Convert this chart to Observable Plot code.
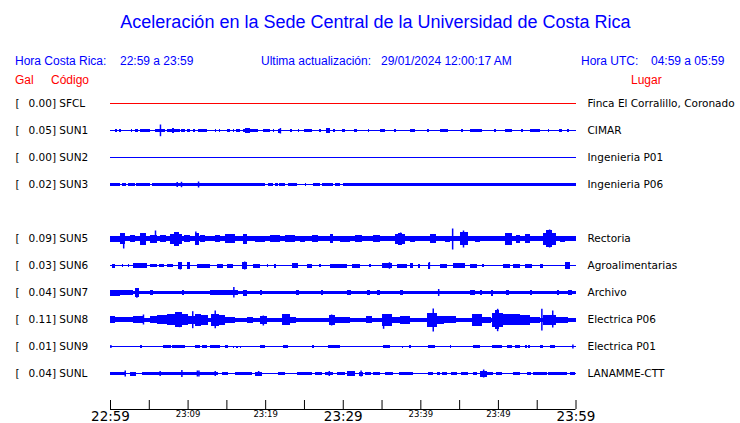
<!DOCTYPE html>
<html><head><meta charset="utf-8">
<script src="https://cdn.jsdelivr.net/npm/d3@7"></script>
<script src="https://cdn.jsdelivr.net/npm/@observablehq/plot@0.6"></script>
<style>
body{margin:0;background:#fff;width:740px;height:423px;overflow:hidden}
#hdr{position:relative;width:740px;height:90px;font-family:"Liberation Sans",Arial,sans-serif;color:#0000ff}
#hdr span{position:absolute;white-space:nowrap;line-height:normal}
.t{font-size:18px}
.s{font-size:12px}
.r{color:#ff0000}
svg{display:block;overflow:visible}
</style></head><body>
<div id="hdr"></div><div id="chart"></div><div id="axis"></div>
<script>
// ---------- texts ----------
const titleText = "Aceleración en la Sede Central de la Universidad de Costa Rica";
const localLabel = "Hora Costa Rica:", localRange = "22:59 a 23:59";
const updLabel = "Ultima actualización:", updValue = "29/01/2024 12:00:17 AM";
const utcLabel = "Hora UTC:", utcRange = "04:59 a 05:59";
const colGal = "Gal", colCode = "Código", colPlace = "Lugar";

// ---------- stations ----------
const rowSlots = ["SFCL","SUN1","SUN2","SUN3","","SUN5","SUN6","SUN7","SUN8","SUN9","SUNL"];
const codes  = ["SFCL","SUN1","SUN2","SUN3","SUN5","SUN6","SUN7","SUN8","SUN9","SUNL"];
const gal    = [0.00, 0.05, 0.00, 0.02, 0.09, 0.03, 0.04, 0.11, 0.01, 0.04];
const places = ["Finca El Corralillo, Coronado","CIMAR","Ingenieria P01","Ingenieria P06","Rectoria","Agroalimentarias","Archivo","Electrica P06","Electrica P01","LANAMME-CTT"];
// quiet-trace half amplitude (display units)
const baseAmp = [0.5, 0.5, 0.5, 0.5, 2.5, 0.5, 1.5, 2, 0.5, 0.5];

// ---------- time axis (minutes after 22:59) ----------
const timeDomain = [0, 60];
const tickMarks = [0,5,10,15,20,25,30,35,40,45,50,55,60];
const tickMinutes = [0,10,20,30,40,50,60];
const tickLabels = ["22:59","23:09","23:19","23:29","23:39","23:49","23:59"];

// ---------- bursts [start min, end min, half amplitude] ----------
const burstsSUN1 = [[0.6,0.9,1.7],[1.2,1.4,1.5],[2.7,2.9,1.5],[3.2,3.6,1.7],[3.9,5.2,1.7],[5.8,7.1,1.7],[7.3,9.0,1.7],[8.0,8.3,2.5],[9.2,9.7,1.5],[9.9,10.3,1.5],[10.7,11.0,1.2],[11.3,12.5,1.7],[13.5,13.7,1.2],[14.0,14.2,1.5],[15.1,15.5,1.2],[15.8,16.0,1.5],[16.3,16.8,1.5],[17.1,19.1,1.7],[17.4,18.0,2.5],[19.7,20.6,1.7],[21.0,21.2,1.2],[21.6,22.1,2],[23.2,23.4,1.2],[24.2,24.4,1.2],[25.0,26.0,1.5],[27.0,27.2,1.5],[27.9,28.4,2.5],[28.7,29.0,1.5],[29.9,30.3,1.2],[31.5,31.8,1.5],[33.2,33.4,1.2],[34.8,35.4,1.5],[36.6,36.8,1.2],[38.7,39.3,1.7],[40.9,41.1,1.2],[42.5,43.6,1.7],[45.3,45.5,1.2],[46.4,48.0,1.7],[49.5,49.7,1.2],[50.9,51.8,1.7],[53.0,53.2,1.2],[54.1,55.4,1.7],[56.4,56.6,1.2],[57.9,58.2,1.5],[58.9,59.1,1.2]];
const burstsSUN3 = [[0.0,0.6,1.5],[0.7,1.3,1.5],[1.5,2.1,1.5],[2.3,3.2,1.5],[3.4,5.2,1.5],[5.4,20.0,1.5],[20.4,21.0,1.5],[21.3,21.6,1.5],[21.8,22.6,1.5],[22.9,24.1,1.5],[25.1,25.3,1.5],[26.2,27.1,1.5],[27.3,28.7,1.5],[29.0,29.6,1.5],[30.0,60,1.5]];
const burstsSUN5 = [[0,1.3,3],[1.3,1.9,5.3],[2.6,3.2,3.5],[3.9,4.6,6],[5.2,6.1,4],[6.4,7.2,3.5],[7.7,9.3,5],[8.2,8.9,7],[9.5,10.3,3.5],[11.0,11.5,6],[11.6,12.2,3.5],[13.5,14.2,3.5],[14.8,16.1,4.5],[17.1,17.7,5],[18.7,20.0,3],[20.6,21.9,3.5],[22.6,23.8,3.5],[24.5,25.1,3],[26.0,26.8,3.5],[28.4,28.7,4.5],[29.7,30.9,3],[31.6,32.5,3.5],[33.9,34.8,3.5],[36.7,38.0,5],[37.1,37.6,6],[38.7,39.3,3],[41.2,42.0,4.5],[43.2,43.8,3],[45.1,46.1,6.5],[47.0,47.7,3],[50.9,51.8,6],[52.3,52.8,4],[53.5,54.1,4.5],[55.8,57.5,6],[56.2,57.0,8.5],[58.0,58.6,3]];
const burstsSUN6 = [[0.3,0.6,2],[1.5,1.7,1.7],[2.3,2.5,1.5],[3.0,4.8,2.2],[5.2,6.0,1.8],[6.3,7.0,1.8],[7.3,8.1,1.8],[8.8,9.3,3.7],[9.9,10.3,3.5],[11.2,12.9,2],[13.8,14.6,2],[15.1,15.9,2],[17.0,17.7,3.5],[18.4,19.3,2],[20.2,20.4,1.5],[21.2,21.4,2],[23.5,24.2,2.5],[25.4,26.0,2],[27.0,27.2,1.5],[28.4,30.5,2],[31.2,32.2,2],[33.4,33.6,1.5],[35.1,36.3,2.5],[37.0,38.3,2],[38.7,39.1,2.5],[39.7,40.0,2],[41.0,41.2,3],[42.5,43.4,2],[44.2,45.8,2.5],[46.4,47.3,2],[48.0,48.2,1.5],[50.7,51.6,2],[52.0,52.8,2],[53.5,54.4,2],[55.4,55.8,2],[58.6,59.3,3.5]];
const burstsSUN7 = [[0,1.3,3],[1.3,3.0,2.2],[3.2,3.7,4.5],[5.2,5.6,2.5],[9.3,9.6,2.5],[12.9,16.5,2.2],[17.1,17.7,3],[19.3,19.6,2.5],[24.0,24.3,2.5],[27.2,27.5,2.5],[30.5,31.0,2.2],[33.1,33.5,2.5],[34.4,34.8,2.5],[37.4,37.8,2.2],[46.4,47.1,2.5],[47.7,48.0,2.2],[49.1,49.4,3],[51.1,51.4,2.5],[54.1,54.4,2.5],[57.6,57.9,2.2],[59.0,59.6,2.5]];
const burstsSUN8 = [[0,0.6,3.5],[0.6,3.0,2.5],[3.0,4.3,3.5],[5.2,6.0,3.5],[6.0,7.4,4.5],[7.4,10.0,5.5],[8.4,9.3,7.5],[10.0,11.0,4],[11.0,11.7,6],[11.7,12.6,5],[13.0,14.0,6],[14.0,14.8,5],[14.8,16.1,3],[17.6,18.4,3],[19.3,20.2,4],[22.2,23.2,5.5],[23.2,24.0,3],[28.2,29.0,5],[29.0,30.9,3],[33.0,33.8,3.5],[35.1,36.4,6],[36.4,37.4,3],[37.4,38.7,4],[40.9,42.1,7],[42.1,43.0,4],[43.0,44.6,3.5],[46.7,48.0,6],[48.0,49.1,3],[49.2,50.6,7],[49.6,50.2,9.5],[50.6,52.8,5.5],[52.8,54.1,5],[54.1,55.4,3],[55.8,57.5,5],[57.5,59.0,3]];
const burstsSUN9 = [[3.9,4.1,1.2],[6.8,7.9,1.3],[8.0,9.7,1.3],[11.0,11.6,1.3],[11.8,12.5,1.3],[12.9,14.2,1.3],[14.8,15.2,1.2],[15.8,16.0,1],[16.3,16.5,1],[16.7,16.9,1],[19.3,20.0,1.3],[22.3,22.9,1.3],[26.1,26.3,1.2],[28.1,29.6,1.3],[35.2,36.1,1.3],[37.6,37.8,1],[38.6,38.8,1.2],[41.0,41.9,1.3],[43.8,44.0,1.2],[46.8,47.7,1.3],[49.2,50.5,1.3],[51.2,51.8,1.3],[52.2,52.8,1.3],[53.5,53.7,1.2],[53.9,54.1,1.2],[55.4,55.8,1.3],[56.7,57.4,1.3]];
const burstsSUNL = [[0,1.9,1.7],[2.6,3.4,2],[4.1,9.2,1.7],[9.2,13.9,1.5],[14.4,15.2,1.2],[16.1,18.3,1.5],[18.7,19.6,2],[21.7,22.6,1.5],[24.1,26.0,1.5],[26.4,27.3,1.7],[27.7,28.7,1.7],[29.2,30.3,1.7],[30.5,31.6,2.5],[32.1,32.6,2],[32.9,33.7,1.5],[33.9,34.8,1.7],[35.4,36.5,1.5],[37.3,39.1,1.7],[41.0,41.6,1.2],[42.1,42.5,1.5],[42.8,43.4,1.5],[44.0,44.7,1.5],[45.3,46.1,1.5],[46.8,47.3,1.5],[47.7,48.6,3],[48.6,49.4,1.5],[49.8,50.5,1.2],[51.9,52.8,1.7],[53.7,54.3,1.5],[54.5,56.3,1.7],[56.5,58.9,1.7],[59.3,59.9,1.5]];

// ---------- spikes [minute, up amplitude, down amplitude] ----------
const spikesSUN1 = [[6.44,6,5.7],[21.9,2.5,3]];
const spikesSUN3 = [[8.6,2.5,2.5],[9.15,2.7,2.7],[11.35,3,3]];
const spikesSUN5 = [[1.7,4,10],[5.8,8,3],[11.0,7,5],[37.4,6,6],[44.1,10,11],[45.5,8,9],[56.6,9,9]];
const spikesSUN6 = [[9.0,3.3,4],[17.3,4,4],[35.96,3.3,3.3],[41.1,3.5,3.5]];
const spikesSUN7 = [[3.4,4,5.3],[15.9,5.5,5],[42.3,3.5,3.5]];
const spikesSUN8 = [[4.25,5,5],[8.9,7.3,7.7],[10.6,8.3,8.7],[13.5,9,8.7],[19.7,4,6],[28.5,5,6],[35.2,4.7,9.3],[41.6,11,12],[49.9,10.7,11.7],[55.6,10.7,11],[57.0,9,8]];
const spikesSUN9 = [[0.05,1.5,1.5],[59.6,2,2]];
const spikesSUNL = [[1.9,3,3],[6.4,2.5,2.5],[9.2,3.5,3.5],[11.2,3,3],[11.4,3,3],[13.5,2.5,2.5],[19.1,2.5,2.5],[28.2,2.5,2.5],[32.3,3,3],[48.1,4,4]];

// ---------- header (HTML) ----------
const hdr = document.getElementById("hdr");
function put(text, cls, left, top, extra) {
  const s = document.createElement("span");
  s.className = cls; s.textContent = text;
  s.style.left = left + "px"; s.style.top = top + "px";
  if (extra) Object.assign(s.style, extra);
  hdr.appendChild(s);
}
put(titleText, "t", 0, 12, {width: "751px", textAlign: "center"});
put(localLabel, "s", 15, 54); put(localRange, "s", 120, 54);
put(updLabel, "s", 261, 54); put(updValue, "s", 381, 54);
put(utcLabel, "s", 581, 54); put(utcRange, "s", 651, 54);
put(colGal, "s r", 15, 73); put(colCode, "s r", 51, 73); put(colPlace, "s r", 631, 73);

// ---------- tables ----------
const burstsBy = {SUN1: burstsSUN1, SUN3: burstsSUN3, SUN5: burstsSUN5, SUN6: burstsSUN6, SUN7: burstsSUN7, SUN8: burstsSUN8, SUN9: burstsSUN9, SUNL: burstsSUNL};
const spikesBy = {SUN1: spikesSUN1, SUN3: spikesSUN3, SUN5: spikesSUN5, SUN6: spikesSUN6, SUN7: spikesSUN7, SUN8: spikesSUN8, SUN9: spikesSUN9, SUNL: spikesSUNL};
const stations = codes.map((code, i) => ({code, gal: gal[i], place: places[i], base: baseAmp[i]}));
const burstRows = codes.flatMap(code => (burstsBy[code] || []).map(([t0, t1, a]) => ({code, t0, t1, a})));
const spikeRows = codes.flatMap(code => (spikesBy[code] || []).map(([t, up, down]) => ({code, t, up, down})));
const traceColor = code => code === "SFCL" ? "#ff0000" : "#0000ff";

const font = "DejaVu Sans";
const chart = Plot.plot({
  width: 740, height: 297,
  marginLeft: 110, marginRight: 164.5, marginTop: 0, marginBottom: 0,
  x: {domain: timeDomain, axis: null},
  y: {domain: [-13.5, 13.5], axis: null},
  fy: {domain: rowSlots, padding: 0, axis: null},
  color: {type: "identity"},
  style: {background: "white", fontFamily: font},
  marks: [
    Plot.rect(stations, {fy: "code", x1: () => timeDomain[0], x2: () => timeDomain[1], y1: d => -d.base, y2: d => d.base, fill: d => traceColor(d.code), shapeRendering: "crispEdges"}),
    Plot.rect(burstRows, {fy: "code", x1: "t0", x2: "t1", y1: d => -d.a, y2: d => d.a, fill: d => traceColor(d.code), shapeRendering: "crispEdges"}),
    Plot.ruleX(spikeRows, {fy: "code", x: "t", y1: d => -d.down, y2: d => d.up, stroke: d => traceColor(d.code), strokeWidth: 1.5}),
    Plot.text(stations, {fy: "code", frameAnchor: "left", dx: -95, text: () => "[", textAnchor: "start", fontSize: 10.5, fontFamily: font, fill: "black"}),
    Plot.text(stations, {fy: "code", frameAnchor: "left", dx: -82, text: d => `${d.gal.toFixed(2)}] ${d.code}`, textAnchor: "start", fontSize: 10.5, fontFamily: font, fill: "black"}),
    Plot.text(stations, {fy: "code", frameAnchor: "right", dx: 11.5, text: "place", textAnchor: "start", fontSize: 10.5, fontFamily: font, fill: "black"})
  ]
});
document.getElementById("chart").appendChild(chart);

const majorTicks = tickMinutes.filter((d, i) => i % 3 === 0);
const minorTicks = tickMinutes.filter((d, i) => i % 3 !== 0);
const labelOf = d => tickLabels[tickMinutes.indexOf(d)];
const axis = Plot.plot({
  width: 740, height: 36,
  marginLeft: 110, marginRight: 164.5, marginTop: 13, marginBottom: 14,
  x: {domain: timeDomain, axis: null},
  y: {domain: [0, 1], axis: null},
  style: {background: "white", fontFamily: font, overflow: "visible"},
  marks: [
    Plot.ruleX(tickMarks, {x: d => d, stroke: "black"}),
    Plot.ruleY([0], {stroke: "black"}),
    Plot.text(majorTicks, {x: d => d, text: labelOf, frameAnchor: "bottom", lineAnchor: "top", dy: 2, fontSize: 13.5, fontFamily: font, fill: "black"}),
    Plot.text(minorTicks, {x: d => d, text: labelOf, frameAnchor: "bottom", lineAnchor: "top", dy: 1.5, fontSize: 8.5, fontFamily: font, fill: "black"})
  ]
});
document.getElementById("axis").appendChild(axis);
</script>
</body></html>
